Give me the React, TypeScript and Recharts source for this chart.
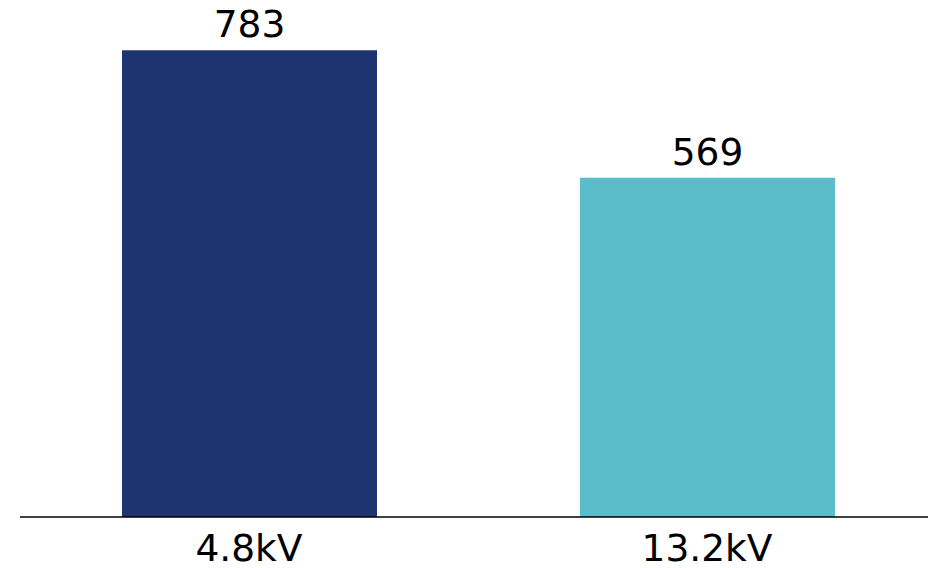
import { Bar, BarChart, Cell, LabelList, XAxis, YAxis } from "recharts";

const categories = ["4.8kV", "13.2kV"];
const counts = [783, 569];
const barColors = ["#1E3470", "#5BBDCA"];

const data = categories.map((name, i) => ({ name, count: counts[i] }));

const FONT = "'DejaVu Sans', Verdana, sans-serif";

export default function App() {
  return (
    <div
      style={{
        position: "fixed",
        top: 0,
        left: 0,
        width: 928,
        height: 568,
        overflow: "hidden",
        background: "#fff",
      }}
    >
      <BarChart
        width={938}
        height={568}
        data={data}
        margin={{ top: 40, right: 2, left: 20, bottom: 0 }}
      >
        <YAxis hide domain={[0, 800]} />
        <XAxis
          dataKey="name"
          height={51}
          tickLine={false}
          axisLine={{ stroke: "#000", strokeWidth: 1.5 }}
          tick={{ fill: "#000", fontSize: 37.5, fontFamily: FONT }}
          tickMargin={11}
        />
        <Bar dataKey="count" barSize={255} isAnimationActive={false}>
          {data.map((d, i) => (
            <Cell key={d.name} fill={barColors[i]} />
          ))}
          <LabelList
            dataKey="count"
            position="top"
            offset={13}
            fill="#000"
            fontSize={37.5}
            fontFamily={FONT}
          />
        </Bar>
      </BarChart>
    </div>
  );
}
